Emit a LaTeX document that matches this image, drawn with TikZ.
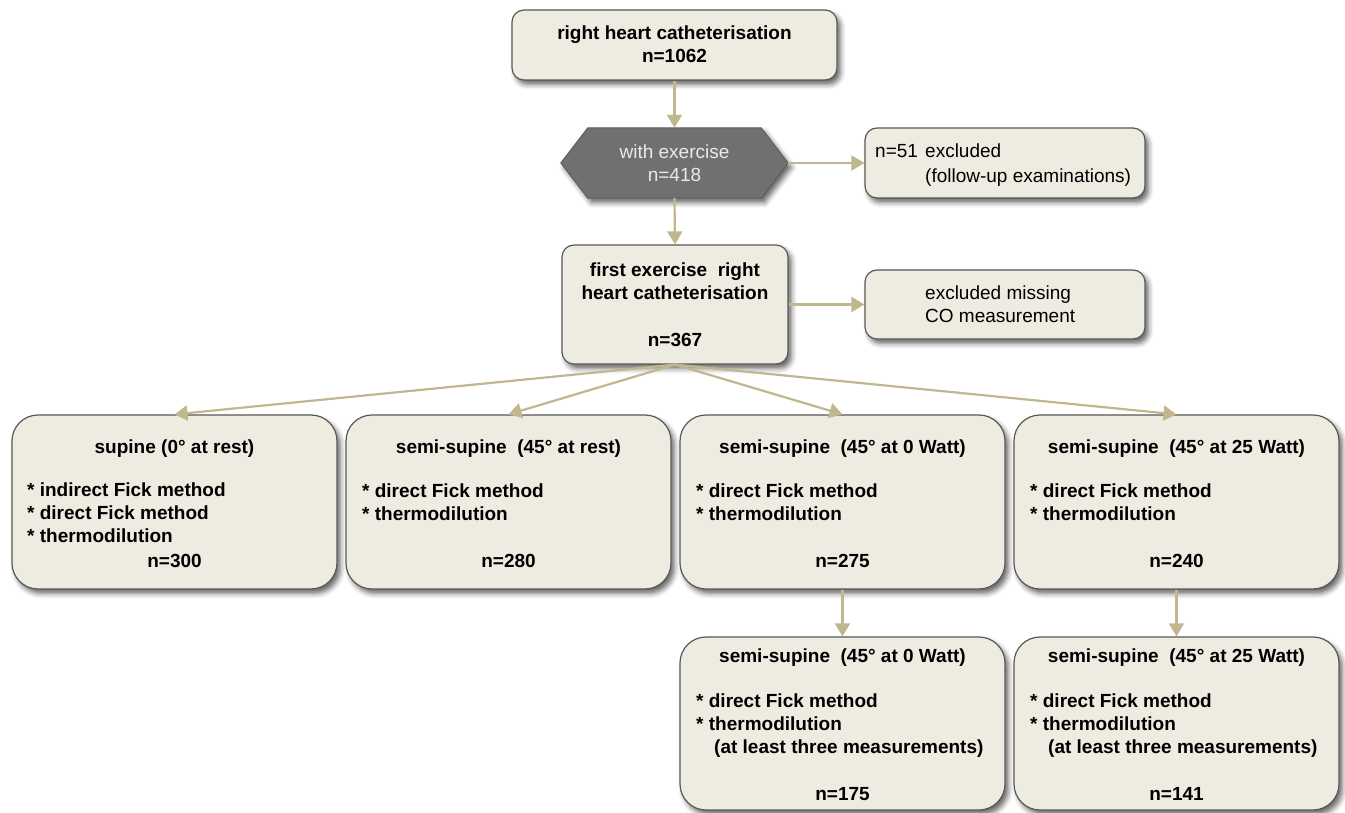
\documentclass[tikz,border=0pt]{standalone}
\usepackage{fontspec}
\setmainfont{Liberation Sans}
\usetikzlibrary{arrows.meta,shadows.blur}
\definecolor{boxfill}{RGB}{238,236,225}
\definecolor{boxline}{RGB}{88,88,88}
\definecolor{arrowc}{RGB}{192,183,143}
\definecolor{hexfill}{RGB}{112,112,112}
\definecolor{hexline}{RGB}{95,95,95}
\definecolor{hextext}{RGB}{234,234,234}
\begin{document}
\begin{tikzpicture}[x=1pt,y=-1pt,
  shad/.style={blur shadow={shadow xshift=3.5pt, shadow yshift=-4.5pt, shadow blur radius=5pt, shadow opacity=60}},
  box/.style={draw=boxline, line width=1.2pt, fill=boxfill, rounded corners=12pt, shad, inner sep=0pt},
  bigbox/.style={box, rounded corners=26pt, minimum width=325pt, minimum height=174pt},
  frame/.style={inner sep=0pt, minimum width=227pt, minimum height=70pt},
  conn/.style={draw=arrowc, line width=2.2pt, -{Triangle[width=15pt,length=13pt]}},
  bt/.style={font=\fontsize{19}{23}\selectfont\bfseries, anchor=base, inner sep=0pt},
  btl/.style={bt, anchor=base west},
  rt/.style={font=\fontsize{19}{23}\selectfont, anchor=base west, inner sep=0pt},
  ht/.style={font=\fontsize{19}{23}\selectfont, anchor=base, inner sep=0pt, text=hextext}
]
\useasboundingbox (0,0) rectangle (1345,813);

% boxes
\node[box, minimum width=325pt, minimum height=70pt] (top) at (674.5,45) {};
\node[frame] (hex) at (674.5,163) {};
\draw[draw=hexline, line width=1pt, fill=hexfill, shad]
  (hex.west) -- ([xshift=27pt]hex.north west) -- ([xshift=-27pt]hex.north east)
  -- (hex.east) -- ([xshift=-27pt]hex.south east) -- ([xshift=27pt]hex.south west) -- cycle;
\node[box, minimum width=226pt, minimum height=119pt] (mid) at (675,304.5) {};
\node[box, minimum width=280pt, minimum height=70pt] (exa) at (1005,163) {};
\node[box, minimum width=280pt, minimum height=69pt] (exb) at (1005,304.5) {};
\node[bigbox] (A) at (174.5,502) {};
\node[bigbox] (B) at (508.5,502) {};
\node[bigbox] (C) at (842.5,502) {};
\node[bigbox] (D) at (1176.5,502) {};
\node[bigbox, minimum height=173pt] (E) at (842.5,723.5) {};
\node[bigbox, minimum height=173pt] (F) at (1176.5,723.5) {};

% connectors
\draw[conn] (top.south) -- (hex.north);
\draw[conn] (hex.east) -- (exa.west);
\draw[conn] (hex.south) -- (mid.north);
\draw[conn] (mid.east) -- (exb.west);
\draw[conn] (mid.south) -- (A.north);
\draw[conn] (mid.south) -- (B.north);
\draw[conn] (mid.south) -- (C.north);
\draw[conn] (mid.south) -- (D.north);
\draw[conn] (C.south) -- (E.north);
\draw[conn] (D.south) -- (F.north);

% texts
\node[bt] (t1) at (674.5,40) {right heart catheterisation};
\node[bt] (t2) at (674.5,63) {n=1062};
\node[ht] (h1) at (674.5,159) {with exercise};
\node[ht] (h2) at (674.5,182) {n=418};
\node[rt] (x1) at (875,158) {n=51};
\node[rt] (x2) at (925,158) {excluded};
\node[rt] (x3) at (925,183) {(follow-up examinations)};
\node[rt] (y1) at (925,300) {excluded missing};
\node[rt] (y2) at (925,323) {CO measurement};
\node[bt] (m1) at (675,277) {first exercise\ \ right};
\node[bt] (m2) at (675,300) {heart catheterisation};
\node[bt] (m3) at (675,346) {n=367};

\node[bt] (a0) at (174.5,453) {supine (0° at rest)};
\node[btl] (a1) at (27,496) {* indirect Fick method};
\node[btl] (a2) at (27,519) {* direct Fick method};
\node[btl] (a3) at (27,542) {* thermodilution};
\node[bt] (a4) at (174.5,567) {n=300};

\node[bt] (b0) at (508.5,453) {semi-supine\ \ (45° at rest)};
\node[btl] (b1) at (362,497) {* direct Fick method};
\node[btl] (b2) at (362,520) {* thermodilution};
\node[bt] (b4) at (508.5,567) {n=280};

\node[bt] (c0) at (842.5,453) {semi-supine\ \ (45° at 0 Watt)};
\node[btl] (c1) at (696,497) {* direct Fick method};
\node[btl] (c2) at (696,520) {* thermodilution};
\node[bt] (c4) at (842.5,567) {n=275};

\node[bt] (d0) at (1176.5,453) {semi-supine\ \ (45° at 25 Watt)};
\node[btl] (d1) at (1030,497) {* direct Fick method};
\node[btl] (d2) at (1030,520) {* thermodilution};
\node[bt] (d4) at (1176.5,567) {n=240};

\node[bt] (e0) at (842.5,662) {semi-supine\ \ (45° at 0 Watt)};
\node[btl] (e1) at (696,707) {* direct Fick method};
\node[btl] (e2) at (696,730) {* thermodilution};
\node[btl] (e3) at (714,753) {(at least three measurements)};
\node[bt] (e4) at (842.5,800) {n=175};

\node[bt] (f0) at (1176.5,662) {semi-supine\ \ (45° at 25 Watt)};
\node[btl] (f1) at (1030,707) {* direct Fick method};
\node[btl] (f2) at (1030,730) {* thermodilution};
\node[btl] (f3) at (1048,753) {(at least three measurements)};
\node[bt] (f4) at (1176.5,800) {n=141};
\end{tikzpicture}
\end{document}
